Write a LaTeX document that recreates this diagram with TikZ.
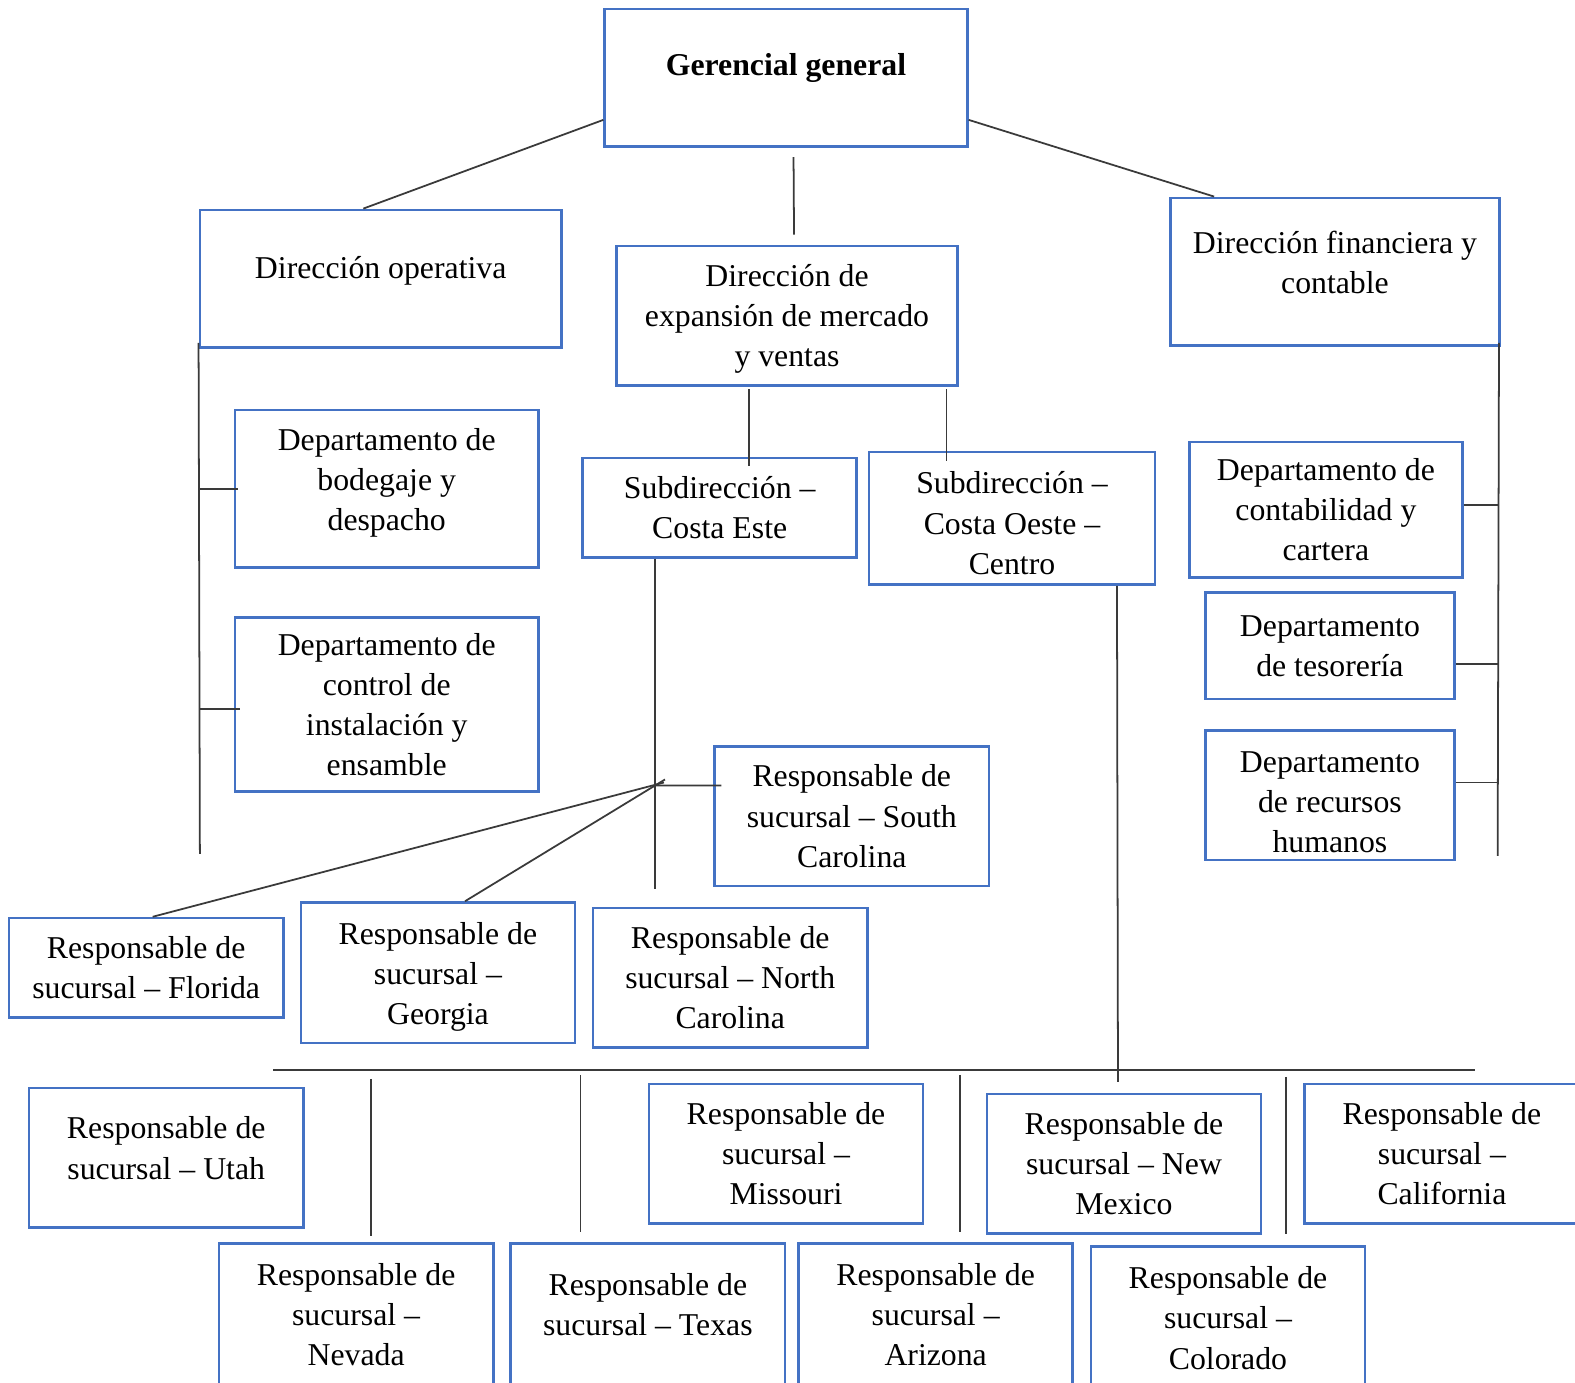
\documentclass[tikz,border=0pt]{standalone}
\usepackage{fontspec}
\setmainfont{Liberation Serif}
\usetikzlibrary{positioning,calc}
\definecolor{marco}{HTML}{4472C4}
\definecolor{linea}{HTML}{3A3A3A}

\begin{document}
\begin{tikzpicture}[font=\fontsize{9}{11.4}\selectfont,
  box/.style={draw=marco,line width=0.75pt,align=center,inner sep=1pt},
  resp/.style={box,minimum width=2.73cm,minimum height=1.39cm},
  txt/.style={align=center,inner sep=0pt},
  link/.style={draw=linea,line width=0.5pt}]
\useasboundingbox (0,0) rectangle (15.68,-13.76);
% gerencia y direcciones
\node[box,minimum width=3.61cm,minimum height=1.37cm] (gg) at (7.825,-0.775) {};
\node[txt,font=\fontsize{9}{11.4}\selectfont\bfseries] (gg-t) at ([yshift=1.0mm]gg.center) {Gerencial general};
\node[box,minimum width=3.60cm,minimum height=1.37cm] (op) at (3.79,-2.775) {};
\node[txt] (op-t) at ([yshift=0.8mm]op.center) {Dirección operativa};
\node[box,minimum width=3.39cm,minimum height=1.39cm] (ex) at (7.835,-3.145) {};
\node[txt] (ex-t) at ([yshift=-0.3mm]ex.center) {Dirección de\\expansión de mercado\\y ventas};
\node[box,minimum width=3.28cm,minimum height=1.47cm] (fi) at (13.29,-2.705) {};
\node[txt] (fi-t) at ([yshift=0.95mm]fi.center) {Dirección financiera y\\contable};
% departamentos
\node[box,minimum width=3.02cm,minimum height=1.57cm] (bo) at (3.85,-4.865) {};
\node[txt] (bo-t) at ([yshift=0.6mm]bo.center) {Departamento de\\bodegaje y\\despacho};
\node[box,minimum width=3.02cm,minimum height=1.73cm] (ci) at (3.85,-7.015) {Departamento de\\control de\\instalación y\\ensamble};
\node[box,minimum width=2.72cm,minimum height=1.35cm] (cc) at (13.20,-5.075) {Departamento de\\contabilidad y\\cartera};
\node[box,minimum width=2.48cm,minimum height=1.06cm] (te) at (13.24,-6.43) {Departamento\\de tesorería};
\node[box,minimum width=2.48cm,minimum height=1.29cm] (rh) at (13.24,-7.915) {};
\node[txt] (rh-t) at ([yshift=-0.7mm]rh.center) {Departamento\\de recursos\\humanos};
% subdirecciones
\node[box,minimum width=2.73cm,minimum height=0.99cm] (ce) at (7.165,-5.055) {Subdirección --\\Costa Este};
\node[box,minimum width=2.85cm,minimum height=1.32cm] (co) at (10.075,-5.16) {};
\node[txt] (co-t) at ([yshift=-0.5mm]co.center) {Subdirección --\\Costa Oeste --\\Centro};
% sucursales costa este
\node[resp] (sc) at (8.48,-8.125) {Responsable de\\sucursal -- South\\Carolina};
\node[resp,minimum height=0.99cm] (fl) at (1.455,-9.635) {Responsable de\\sucursal -- Florida};
\node[resp,minimum height=1.40cm] (ga) at (4.36,-9.685) {};
\node[txt] (ga-t) at ([yshift=-0.4mm]ga.center) {Responsable de\\sucursal --\\Georgia};
\node[resp] (nc) at (7.27,-9.735) {Responsable de\\sucursal -- North\\Carolina};
% sucursales costa oeste
\node[resp] (ut) at (1.655,-11.525) {};
\node[txt] (ut-t) at ([yshift=0.95mm]ut.center) {Responsable de\\sucursal -- Utah};
\node[resp] (mo) at (7.825,-11.485) {Responsable de\\sucursal --\\Missouri};
\node[resp] (nm) at (11.19,-11.585) {Responsable de\\sucursal -- New\\Mexico};
\node[resp] (ca) at (14.355,-11.485) {Responsable de\\sucursal --\\California};
\node[resp,minimum height=1.42cm] (nv) at (3.545,-13.09) {Responsable de\\sucursal --\\Nevada};
\node[resp,minimum height=1.42cm] (tx) at (6.45,-13.09) {};
\node[txt] (tx-t) at ([yshift=1.05mm]tx.center) {Responsable de\\sucursal -- Texas};
\node[resp,minimum height=1.42cm] (az) at (9.315,-13.09) {Responsable de\\sucursal --\\Arizona};
\node[resp,minimum height=1.42cm] (cl) at (12.225,-13.12) {Responsable de\\sucursal --\\Colorado};

% lineas de gerencia
\draw[link] ([yshift=2.8mm]gg.south west) -- ([xshift=16.4mm]op.north west);
\draw[link] ([yshift=2.8mm]gg.south east) -- ([xshift=4.5mm]fi.north west);
\draw[link] ([xshift=0.75mm,yshift=-0.9mm]gg.south) -- ([xshift=0.7mm,yshift=1mm]ex.north);
% eje operativo
\coordinate (opfin) at (1.99,-8.50);
\draw[link] ([yshift=0.6mm]op.south west) -- (opfin);
\draw[link] (bo.west -| opfin) -- ([xshift=0.4mm]bo.west);
\draw[link] ([yshift=-0.45mm]ci.west -| opfin) -- ([xshift=0.6mm,yshift=-0.45mm]ci.west);
% eje financiero
\coordinate (fifin) at (14.91,-8.52);
\draw[link] ([xshift=-0.2mm,yshift=0.4mm]fi.south east) -- (fifin);
\draw[link] ([yshift=0.45mm]cc.east) -- ([yshift=0.45mm]cc.east -| fifin);
\draw[link] ([yshift=-1.8mm]te.east) -- ([yshift=-1.8mm]te.east -| fifin);
\draw[link] ([yshift=1.25mm]rh.east) -- ([yshift=1.25mm]rh.east -| fifin);
% subdirecciones
\draw[link] ([xshift=-3.75mm,yshift=-0.2mm]ex.south) -- ++(0,-0.77);
\draw[link] ([xshift=-1.2mm,yshift=-0.2mm]ex.south east) -- ++(0,-0.72);
\coordinate (cefin) at (6.52,-8.85);
\draw[link] (ce.south -| cefin) -- (cefin);
\coordinate (cruce) at (6.52,-7.82);
\coordinate (vfl) at (6.61,-7.79);
\coordinate (vga) at (6.62,-7.76);
\draw[link] (cruce) -- ([xshift=0.8mm,yshift=3.05mm]sc.west);
\draw[link] ([xshift=0.65mm]fl.north) -- (vfl);
\draw[link] ([xshift=2.7mm]ga.north) -- (vga);
% bus costa oeste
\coordinate (cofin) at (11.13,-10.77);
\draw[link] ([xshift=10.45mm]co.south) -- (cofin);
\coordinate (busizq) at (2.72,-10.65);
\coordinate (busder) at (14.68,-10.65);
\draw[link] (busizq) -- (busder);
\foreach \n/\x/\a/\b in {1/3.69/10.74/12.30,2/5.78/10.70/12.26,3/9.56/10.70/12.26,4/12.80/10.72/12.28}{
  \coordinate (ba\n) at (\x,-\a);
  \coordinate (bb\n) at (\x,-\b);
  \draw[link] (ba\n) -- (bb\n);
}
\end{tikzpicture}
\end{document}
